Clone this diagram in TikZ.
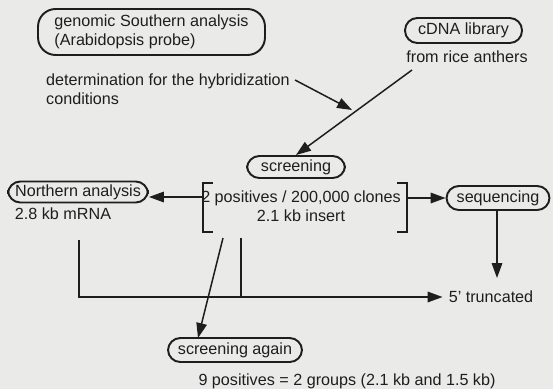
\documentclass[tikz,border=0pt]{standalone}
\usepackage{fontspec}
\setmainfont{Liberation Sans}
\usetikzlibrary{arrows.meta}
\definecolor{paper}{RGB}{234,234,232}
\definecolor{ink}{RGB}{30,30,30}
\tikzset{
  box/.style={draw=ink, line width=1.1pt, rounded corners=7pt, inner sep=0pt},
  flow/.style={draw=ink, line width=0.85pt, -{Triangle[length=8.5pt,width=6pt]}},
  link/.style={draw=ink, line width=0.85pt},
}
\begin{document}
\begin{tikzpicture}[x=0.02cm, y=-0.02cm, font=\fontsize{9.2}{10.5}\selectfont, text=ink]
  \fill[paper] (0,0) rectangle (553,389);
  \useasboundingbox (0,0) rectangle (553,389);
  % boxes
  \node[box, rounded corners=10pt, minimum width=4.54cm, minimum height=0.92cm, align=left] (south) at (151.5,32)
    {genomic Southern analysis\\(Arabidopsis probe)};
  \node[box, minimum width=2.34cm, minimum height=0.5cm] (cdna) at (463.5,30.5) {cDNA library};
  \node[box, minimum width=1.96cm, minimum height=0.44cm] (screen) at (296,167) {screening};
  \node[box, minimum width=2.8cm, minimum height=0.42cm] (north) at (78,192) {Northern analysis};
  \node[box, minimum width=2.06cm, minimum height=0.48cm] (seq) at (498,198) {sequencing};
  \node[box, minimum width=2.68cm, minimum height=0.48cm] (again) at (235,350) {screening again};
  % texts
  \node[anchor=west, align=left] (det) at (40,89) {determination for the hybridization\\conditions};
  \node (rice) at (467,57) {from rice anthers};
  \node[align=center] (pos) at (301,206) {2 positives / 200,000 clones\\2.1 kb insert};
  \node (mrna) at (63,214) {2.8 kb mRNA};
  \node (trunc) at (491,297) {5' truncated};
  \node (nine) at (347,381) {9 positives = 2 groups (2.1 kb and 1.5 kb)};
  % brackets
  \coordinate (lbr) at (203,197);
  \coordinate (rbr) at (407,198);
  \draw[link] (213,183) -- (203,183) -- (203,232) -- (213,232);
  \draw[link] (397,183) -- (407,183) -- (407,232) -- (397,232);
  % connectors
  \coordinate (hyb) at (295,80);
  \coordinate (hybend) at (352,110);
  \coordinate (lib) at (412,70);
  \coordinate (mfoot) at (79,240);
  \coordinate (pfoot) at (241,238);
  \coordinate (sfoot) at (223,238);
  \coordinate (sagain) at (198,338);
  \coordinate (seqend) at (497,278);
  \draw[flow] (hyb) -- (hybend);
  \draw[flow] (lib) -- (screen.north);
  \draw[flow] (lbr) -- (lbr -| north.east);
  \draw[flow] (rbr) -- (rbr -| seq.west);
  \draw[flow] (seq.south -| seqend) -- (seqend);
  \draw[flow] (mfoot) |- (trunc.west);
  \draw[link] (pfoot) -- (pfoot |- trunc.west);
  \draw[flow] (sfoot) -- (sagain);
\end{tikzpicture}
\end{document}
